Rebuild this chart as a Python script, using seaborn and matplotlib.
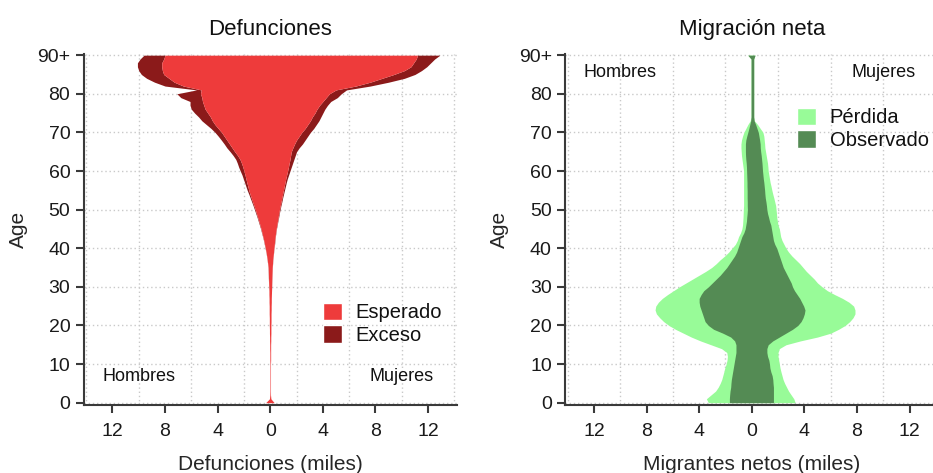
import numpy as np
import matplotlib
matplotlib.use("Agg")
import matplotlib.pyplot as plt
import seaborn as sns
from matplotlib.patches import Patch

# Edades simples 0..90 (90 = 90+)
edades = list(range(91))

# Defunciones (miles) por edad: esperadas y exceso, hombres y mujeres
esperado_h = [
    0.35, 0.06, 0.03, 0.02, 0.02, 0.02, 0.02, 0.02, 0.02, 0.02,
    0.02, 0.03, 0.03, 0.03, 0.04, 0.04, 0.05, 0.05, 0.06, 0.06,
    0.07, 0.07, 0.07, 0.08, 0.08, 0.08, 0.09, 0.09, 0.10, 0.10,
    0.11, 0.12, 0.13, 0.14, 0.15, 0.16, 0.19, 0.23, 0.27, 0.32,
    0.37, 0.43, 0.49, 0.56, 0.63, 0.70, 0.78, 0.87, 0.96, 1.05,
    1.14, 1.24, 1.34, 1.44, 1.54, 1.63, 1.70, 1.78, 1.85, 1.92,
    2.00, 2.08, 2.18, 2.30, 2.48, 2.70, 2.90, 3.10, 3.30, 3.50,
    3.70, 3.95, 4.20, 4.40, 4.55, 4.75, 4.95, 5.05, 5.15, 5.20,
    5.30, 5.25, 6.60, 7.30, 7.70, 8.10, 8.20, 8.25, 8.25, 8.10,
    8.00,
]
exceso_h = [
    0, 0, 0, 0, 0, 0, 0, 0, 0, 0,
    0, 0, 0, 0, 0, 0, 0, 0, 0, 0,
    0, 0, 0, 0, 0, 0, 0, 0, 0, 0,
    0.01, 0.01, 0.01, 0.01, 0.01, 0.01, 0.01, 0.01, 0.01, 0.01,
    0.02, 0.02, 0.02, 0.02, 0.03, 0.03, 0.04, 0.04, 0.04, 0.05,
    0.06, 0.06, 0.07, 0.08, 0.09, 0.12, 0.15, 0.17, 0.20, 0.23,
    0.28, 0.32, 0.32, 0.32, 0.34, 0.35, 0.40, 0.40, 0.42, 0.45,
    0.50, 0.55, 0.65, 0.80, 0.90, 1.00, 1.05, 1.05, 0.95, 1.60,
    1.80, 0.35, 1.40, 1.50, 1.70, 1.70, 1.80, 1.85, 1.85, 1.80,
    1.60,
]
esperado_m = [
    0.30, 0.05, 0.02, 0.02, 0.02, 0.02, 0.02, 0.02, 0.02, 0.02,
    0.02, 0.03, 0.03, 0.03, 0.03, 0.03, 0.04, 0.04, 0.05, 0.05,
    0.05, 0.06, 0.06, 0.06, 0.07, 0.07, 0.08, 0.08, 0.09, 0.10,
    0.10, 0.11, 0.12, 0.13, 0.14, 0.15, 0.17, 0.19, 0.22, 0.25,
    0.28, 0.31, 0.34, 0.37, 0.41, 0.45, 0.50, 0.55, 0.60, 0.65,
    0.70, 0.76, 0.82, 0.88, 0.94, 1.00, 1.06, 1.12, 1.18, 1.25,
    1.32, 1.38, 1.44, 1.50, 1.55, 1.60, 1.72, 1.85, 2.00, 2.20,
    2.40, 2.65, 2.85, 3.05, 3.20, 3.40, 3.55, 3.75, 4.00, 4.25,
    4.50, 5.00, 6.50, 7.60, 8.50, 9.40, 10.20, 10.70, 10.90, 11.10,
    11.20,
]
exceso_m = [
    0, 0, 0, 0, 0, 0, 0, 0, 0, 0,
    0, 0, 0, 0, 0, 0, 0, 0, 0, 0,
    0, 0, 0, 0, 0, 0, 0, 0, 0, 0,
    0.01, 0.01, 0.01, 0.01, 0.01, 0.01, 0.01, 0.01, 0.01, 0.01,
    0.01, 0.02, 0.02, 0.02, 0.02, 0.02, 0.03, 0.03, 0.04, 0.04,
    0.05, 0.05, 0.06, 0.06, 0.07, 0.08, 0.09, 0.10, 0.12, 0.15,
    0.18, 0.22, 0.26, 0.30, 0.35, 0.40, 0.48, 0.60, 0.65, 0.65,
    0.65, 0.65, 0.65, 0.65, 0.65, 0.60, 0.60, 0.60, 0.60, 0.85,
    0.90, 0.80, 1.10, 1.40, 1.70, 1.60, 1.30, 1.20, 1.30, 1.40,
    1.70,
]

# Migrantes netos (miles) por edad: observado y pérdida, hombres y mujeres
observado_h = [
    1.70, 1.70, 1.68, 1.65, 1.60, 1.58, 1.55, 1.50, 1.45, 1.40,
    1.35, 1.30, 1.25, 1.20, 1.20, 1.20, 1.30, 1.60, 2.20, 2.90,
    3.30, 3.55, 3.65, 3.75, 3.85, 3.95, 4.00, 4.00, 3.85, 3.65,
    3.30, 3.00, 2.70, 2.40, 2.15, 1.90, 1.70, 1.50, 1.30, 1.15,
    1.05, 0.95, 0.85, 0.75, 0.60, 0.50, 0.45, 0.40, 0.38, 0.35,
    0.33, 0.34, 0.34, 0.35, 0.35, 0.35, 0.36, 0.36, 0.37, 0.38,
    0.39, 0.40, 0.42, 0.45, 0.47, 0.48, 0.48, 0.48, 0.45, 0.38,
    0.30, 0.22, 0.15, 0.08, 0.05, 0.05, 0.05, 0.05, 0.05, 0.05,
    0.05, 0.05, 0.05, 0.05, 0.05, 0.05, 0.05, 0.05, 0.05, 0.05,
    0.30,
]
perdida_h = [
    1.60, 1.75, 1.42, 1.10, 0.95, 0.82, 0.73, 0.70, 0.67, 0.65,
    0.60, 0.58, 0.60, 0.70, 1.10, 1.90, 2.60, 3.00, 3.00, 2.90,
    3.00, 3.15, 3.35, 3.50, 3.50, 3.35, 3.10, 2.80, 2.55, 2.30,
    2.20, 2.00, 1.80, 1.60, 1.35, 1.15, 1.00, 0.90, 0.75, 0.60,
    0.45, 0.30, 0.25, 0.25, 0.25, 0.25, 0.25, 0.28, 0.28, 0.30,
    0.31, 0.28, 0.28, 0.27, 0.27, 0.27, 0.26, 0.26, 0.25, 0.24,
    0.23, 0.26, 0.28, 0.29, 0.31, 0.32, 0.34, 0.34, 0.33, 0.32,
    0.30, 0.23, 0.15, 0.04, 0, 0, 0, 0, 0, 0,
    0, 0, 0, 0, 0, 0, 0, 0, 0, 0,
    0,
]
observado_m = [
    1.65, 1.65, 1.65, 1.65, 1.65, 1.62, 1.60, 1.55, 1.45, 1.38,
    1.35, 1.30, 1.20, 1.15, 1.15, 1.25, 1.60, 2.10, 2.60, 3.10,
    3.50, 3.75, 3.90, 4.00, 4.05, 3.95, 3.80, 3.65, 3.45, 3.25,
    3.10, 3.00, 2.85, 2.70, 2.55, 2.40, 2.30, 2.20, 2.10, 2.00,
    1.90, 1.75, 1.65, 1.60, 1.55, 1.50, 1.45, 1.35, 1.28, 1.20,
    1.15, 1.12, 1.08, 1.03, 1.00, 0.98, 0.95, 0.92, 0.88, 0.85,
    0.82, 0.80, 0.78, 0.75, 0.72, 0.68, 0.65, 0.64, 0.60, 0.55,
    0.50, 0.40, 0.30, 0.18, 0.15, 0.15, 0.15, 0.15, 0.15, 0.15,
    0.15, 0.15, 0.15, 0.15, 0.15, 0.15, 0.15, 0.15, 0.15, 0.15,
    0.25,
]
perdida_m = [
    1.65, 1.55, 1.35, 1.15, 1.00, 0.88, 0.78, 0.75, 0.77, 0.77,
    0.75, 0.75, 0.80, 0.85, 0.95, 1.35, 2.10, 2.90, 3.40, 3.50,
    3.60, 3.70, 3.80, 3.85, 3.80, 3.80, 3.60, 3.25, 2.85, 2.50,
    2.25, 2.00, 1.90, 1.75, 1.60, 1.50, 1.35, 1.15, 0.95, 0.80,
    0.70, 0.70, 0.65, 0.60, 0.60, 0.60, 0.55, 0.60, 0.62, 0.68,
    0.70, 0.70, 0.67, 0.65, 0.60, 0.55, 0.52, 0.48, 0.47, 0.45,
    0.43, 0.43, 0.42, 0.40, 0.38, 0.37, 0.35, 0.34, 0.35, 0.37,
    0.35, 0.25, 0.15, 0.02, 0, 0, 0, 0, 0, 0,
    0, 0, 0, 0, 0, 0, 0, 0, 0, 0,
    0,
]

xticks = [-12, -8, -4, 0, 4, 8, 12]
xtick_labels = ["12", "8", "4", "0", "4", "8", "12"]
yticks = [0, 10, 20, 30, 40, 50, 60, 70, 80, 90]
ytick_labels = ["0", "10", "20", "30", "40", "50", "60", "70", "80", "90+"]

ROJO = "#EE3B3B"
ROJO_OSC = "#8B1A1A"
VERDE_CLARO = "#98FB98"
VERDE_OSC = "#548B54"
EJE = "#3a3a3a"

sns.set_theme(style="ticks")
plt.rcParams["font.family"] = ["Liberation Sans", "DejaVu Sans"]
plt.rcParams["text.color"] = "#111111"

fig = plt.figure(figsize=(9.33, 4.73), dpi=100)
W, H = 933.0, 473.0
ax1 = fig.add_axes([83.5 / W, 68 / H, 373.5 / W, 351 / H])
ax2 = fig.add_axes([565 / W, 68 / H, 373.5 / W, 351 / H])

y = np.array(edades, dtype=float)


def estilo(ax, titulo, etiqueta_x):
    ax.set_xlim(-14.2, 14.2)
    ax.set_ylim(-0.6, 90.3)
    ax.set_xticks(xticks)
    ax.set_xticklabels(xtick_labels)
    ax.set_xticks(np.arange(-14, 15, 2), minor=True)
    ax.set_yticks(yticks)
    ax.set_yticklabels(ytick_labels)
    ax.set_axisbelow(True)
    ax.xaxis.grid(True, which="minor", color="#c9c9c9", linestyle=(0, (1, 2)), linewidth=1.0)
    ax.yaxis.grid(True, which="major", color="#c9c9c9", linestyle=(0, (1, 2)), linewidth=1.0)
    ax.tick_params(axis="x", which="minor", length=0)
    ax.tick_params(axis="both", which="major", direction="out", length=6,
                   width=1.5, color=EJE, labelsize=14, labelcolor="#1a1a1a")
    ax.tick_params(axis="x", which="major", pad=7)
    ax.tick_params(axis="y", which="major", pad=3.5)
    sns.despine(ax=ax)
    for lado in ("left", "bottom"):
        ax.spines[lado].set_color(EJE)
        ax.spines[lado].set_linewidth(1.5)
    ax.set_title(titulo, fontsize=16, pad=14)
    ax.set_xlabel(etiqueta_x, fontsize=15, labelpad=11)
    ax.set_ylabel("Age", fontsize=15, labelpad=7)


# Panel izquierdo: defunciones
esp_h = np.array(esperado_h)
esp_m = np.array(esperado_m)
tot_h = esp_h + np.array(exceso_h)
tot_m = esp_m + np.array(exceso_m)
ax1.fill_betweenx(y, -tot_h, -esp_h, color=ROJO_OSC, linewidth=0, zorder=2)
ax1.fill_betweenx(y, esp_m, tot_m, color=ROJO_OSC, linewidth=0, zorder=2)
ax1.fill_betweenx(y, -esp_h, esp_m, color=ROJO, linewidth=0, zorder=3)
estilo(ax1, "Defunciones", "Defunciones (miles)")
ax1.text(-10, 6.7, "Hombres", ha="center", va="center", fontsize=13)
ax1.text(10, 6.7, "Mujeres", ha="center", va="center", fontsize=13)
ax1.legend(handles=[Patch(facecolor=ROJO, label="Esperado"),
                    Patch(facecolor=ROJO_OSC, label="Exceso")],
           loc="upper left", bbox_to_anchor=(0.640, 0.292), frameon=False,
           fontsize=14.5, handlelength=0.95, handleheight=0.95,
           handletextpad=0.7, labelspacing=0.15, borderpad=0, borderaxespad=0)

# Panel derecho: migración neta
obs_h = np.array(observado_h)
obs_m = np.array(observado_m)
ext_h = obs_h + np.array(perdida_h)
ext_m = obs_m + np.array(perdida_m)
ax2.fill_betweenx(y, -ext_h, ext_m, color=VERDE_CLARO, linewidth=0, zorder=2)
ax2.fill_betweenx(y, -obs_h, obs_m, color=VERDE_OSC, linewidth=0, zorder=3)
estilo(ax2, "Migración neta", "Migrantes netos (miles)")
ax2.text(-10, 85.4, "Hombres", ha="center", va="center", fontsize=13)
ax2.text(10, 85.4, "Mujeres", ha="center", va="center", fontsize=13)
ax2.legend(handles=[Patch(facecolor=VERDE_CLARO, label="Pérdida"),
                    Patch(facecolor=VERDE_OSC, label="Observado")],
           loc="upper left", bbox_to_anchor=(0.62, 0.847), frameon=False,
           fontsize=14.5, handlelength=0.95, handleheight=0.95,
           handletextpad=0.7, labelspacing=0.15, borderpad=0, borderaxespad=0)

fig.savefig("out.png", dpi=100, facecolor="white")
